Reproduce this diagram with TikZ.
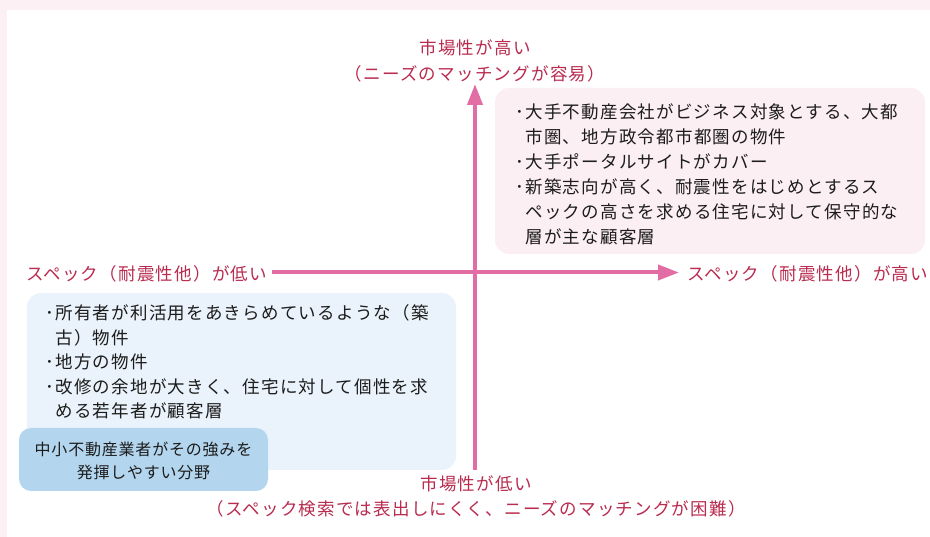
\documentclass[tikz,border=0pt]{standalone}
\usepackage{fontspec}
\setmainfont{Noto Sans CJK JP}
\newfontfamily\jpbody[LetterSpace=7]{Noto Sans CJK JP}
\newfontfamily\jptag[LetterSpace=5]{Noto Sans CJK JP}
\usetikzlibrary{arrows.meta}
\definecolor{bgpink}{HTML}{FDF0F5}
\definecolor{boxpink}{HTML}{FCEFF4}
\definecolor{boxblue}{HTML}{EAF3FB}
\definecolor{tagblue}{HTML}{B3D6EE}
\definecolor{axispink}{HTML}{E26DA5}
\definecolor{labelred}{HTML}{B92B4F}
\definecolor{bodytext}{HTML}{1C1C1C}
\newcommand\bdyfont{\jpbody\fontsize{17.5}{25}\selectfont}
\newcommand\tagfont{\jptag\fontsize{16}{23}\selectfont}
\begin{document}
\begin{tikzpicture}[x=1pt,y=-1pt,
  every node/.style={inner sep=0pt, outer sep=0pt},
  axislabel/.style={text=labelred, font=\bdyfont},
  bodyline/.style={text=bodytext, font=\bdyfont, anchor=west},
  tagline/.style={text=bodytext, font=\tagfont},
  panel/.style={draw=none, rounded corners=14pt, anchor=north west, inner sep=0pt},
  axisline/.style={draw=axispink, line width=4pt, -{Triangle[length=21pt,width=15pt]}}
]
\useasboundingbox (0,0) rectangle (930,537);
\fill[bgpink] (0,0) rectangle (930,537);
\fill[white] (7,10) rectangle (930,537);

% panels
\node[panel, fill=boxpink, minimum width=430pt, minimum height=166pt] (hibox) at (495,88) {};
\node[panel, fill=boxblue, minimum width=429pt, minimum height=177pt] (lobox) at (27,293) {};
\node[panel, fill=tagblue, rounded corners=12pt, minimum width=249pt, minimum height=63pt] (tagbox) at (19,428) {};

% axes
\coordinate (ybot) at (475,470);
\coordinate (ytop) at (475,84);
\coordinate (xleft) at (272,272.5);
\coordinate (xright) at (679,272.5);
\draw[axisline] (ybot) -- (ytop);
\draw[axisline] (xleft) -- (xright);

% axis labels
\node[axislabel] (top1) at (475,48) {市場性が高い};
\node[axislabel] (top2) at (475,74) {（ニーズのマッチングが容易）};
\node[axislabel, anchor=west] (leftlab) at (26,274) {スペック（耐震性他）が低い};
\node[axislabel, anchor=west] (rightlab) at (687,274) {スペック（耐震性他）が高い};
\node[axislabel] (bot1) at (476,484) {市場性が低い};
\node[axislabel] (bot2) at (476,509) {（スペック検索では表出しにくく、ニーズのマッチングが困難）};

% high panel text
\node[bodyline] (h1) at (515.5,111.5) {･大手不動産会社がビジネス対象とする、大都};
\node[bodyline] (h2) at (525.5,136.5) {市圏、地方政令都市都圏の物件};
\node[bodyline] (h3) at (515.5,161.5) {･大手ポータルサイトがカバー};
\node[bodyline] (h4) at (515.5,186.5) {･新築志向が高く、耐震性をはじめとするス};
\node[bodyline] (h5) at (525.5,211.5) {ペックの高さを求める住宅に対して保守的な};
\node[bodyline] (h6) at (525.5,236.5) {層が主な顧客層};

% low panel text
\node[bodyline] (l1) at (45.5,313.3) {･所有者が利活用をあきらめているような（築};
\node[bodyline] (l2) at (55.5,337.7) {古）物件};
\node[bodyline] (l3) at (45.5,362.1) {･地方の物件};
\node[bodyline] (l4) at (45.5,386.5) {･改修の余地が大きく、住宅に対して個性を求};
\node[bodyline] (l5) at (55.5,410.9) {める若年者が顧客層};

% tag text
\node[tagline] (t1) at (143.5,449) {中小不動産業者がその強みを};
\node[tagline] (t2) at (143.5,472) {発揮しやすい分野};
\end{tikzpicture}
\end{document}
